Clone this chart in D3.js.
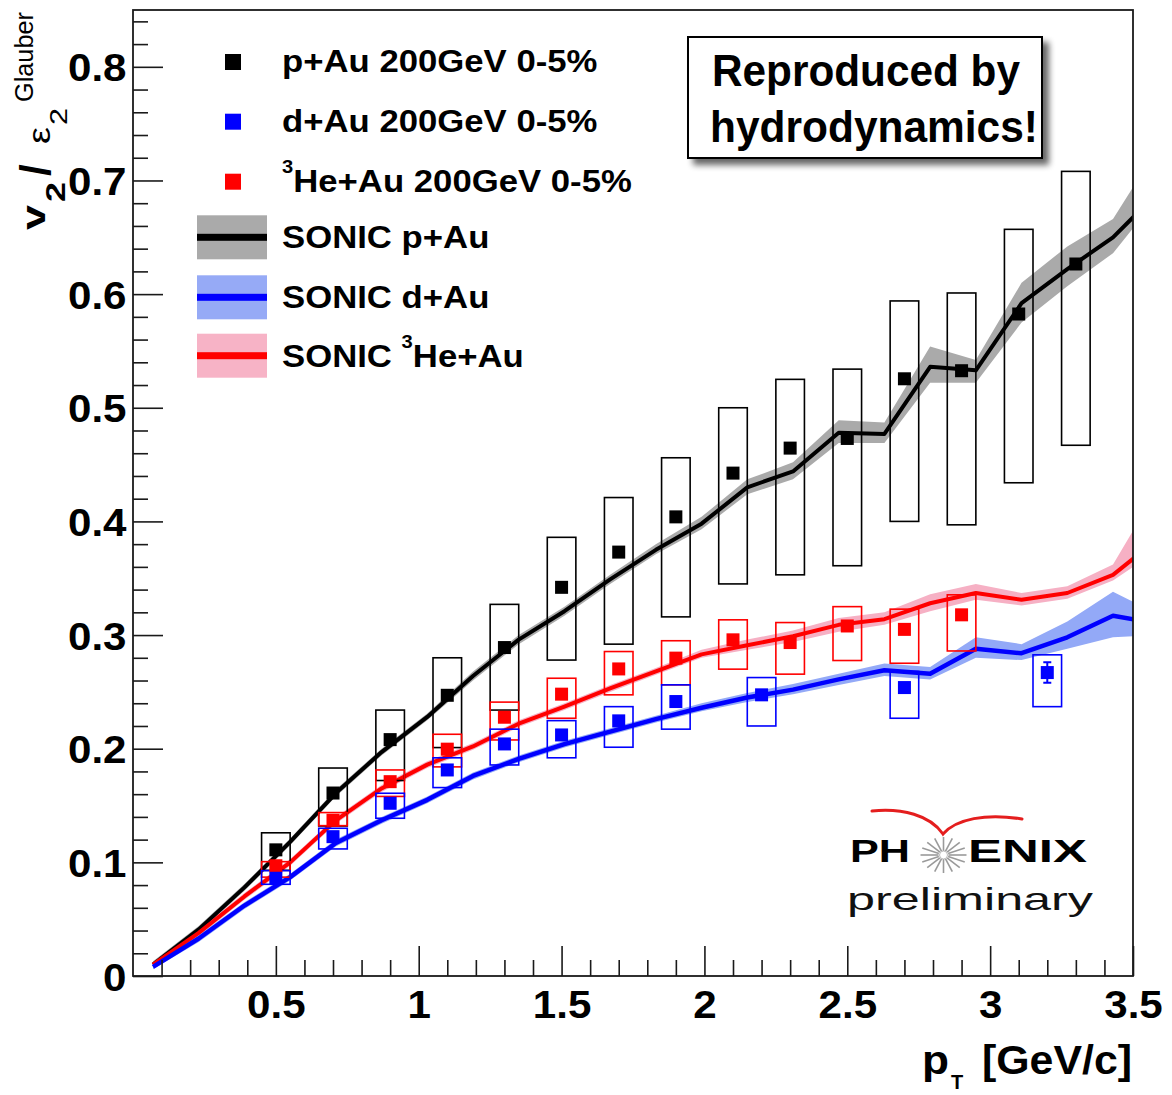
<!DOCTYPE html>
<html><head><meta charset="utf-8">
<script src="https://cdn.jsdelivr.net/npm/d3@7"></script>
<style>body{margin:0;background:#fff}</style>
</head><body>
<svg id="chart" width="1172" height="1095"></svg>
<script>
// ---------------- DATA ----------------
const sonicPt = [0.07,0.23,0.39,0.55,0.71,0.87,1.03,1.19,1.35,1.51,1.67,1.83,1.99,2.15,2.31,2.47,2.63,2.79,2.95,3.11,3.27,3.43,3.59];

const sonicPAu   = [0.010,0.041,0.078,0.118,0.161,0.197,0.228,0.264,0.296,0.321,0.349,0.375,0.398,0.430,0.444,0.478,0.477,0.536,0.533,0.592,0.622,0.650,0.690];
const sonicPAuLo = [0.007,0.038,0.075,0.115,0.158,0.194,0.225,0.260,0.292,0.317,0.345,0.371,0.393,0.424,0.437,0.469,0.469,0.522,0.522,0.575,0.607,0.636,0.686];
const sonicPAuHi = [0.013,0.044,0.081,0.121,0.164,0.200,0.231,0.268,0.300,0.325,0.353,0.380,0.404,0.437,0.452,0.489,0.487,0.554,0.542,0.610,0.642,0.666,0.730];

const sonicHeAu   = [0.010,0.038,0.070,0.100,0.137,0.165,0.186,0.202,0.222,0.237,0.253,0.268,0.283,0.291,0.299,0.309,0.314,0.328,0.337,0.331,0.337,0.353,0.385];
const sonicHeAuLo = [0.008,0.035,0.067,0.097,0.134,0.162,0.183,0.199,0.219,0.234,0.250,0.265,0.280,0.287,0.294,0.303,0.309,0.321,0.331,0.326,0.332,0.348,0.375];
const sonicHeAuHi = [0.012,0.041,0.073,0.103,0.140,0.168,0.189,0.205,0.225,0.240,0.256,0.271,0.287,0.296,0.304,0.315,0.320,0.336,0.345,0.337,0.343,0.362,0.430];

const sonicDAu   = [0.008,0.033,0.062,0.087,0.117,0.137,0.155,0.176,0.191,0.204,0.215,0.226,0.236,0.245,0.252,0.261,0.269,0.266,0.288,0.284,0.298,0.317,0.310];
const sonicDAuLo = [0.006,0.030,0.059,0.084,0.114,0.134,0.152,0.173,0.188,0.201,0.212,0.223,0.233,0.241,0.248,0.256,0.264,0.261,0.280,0.278,0.288,0.298,0.300];
const sonicDAuHi = [0.010,0.036,0.065,0.090,0.120,0.140,0.158,0.179,0.194,0.207,0.218,0.229,0.240,0.249,0.257,0.266,0.275,0.272,0.298,0.292,0.312,0.338,0.318];

const ptPAu    = [0.5,0.7,0.9,1.1,1.3,1.5,1.7,1.9,2.1,2.3,2.5,2.7,2.9,3.1,3.3];
const v2PAu    = [0.111,0.161,0.208,0.247,0.289,0.342,0.373,0.404,0.4425,0.4645,0.473,0.5255,0.5326,0.5825,0.6265];
const sysLoPAu = [0.093,0.132,0.172,0.201,0.234,0.278,0.292,0.316,0.345,0.353,0.361,0.400,0.397,0.434,0.467];
const sysHiPAu = [0.126,0.183,0.234,0.280,0.327,0.386,0.421,0.456,0.500,0.525,0.534,0.594,0.601,0.657,0.708];

const ptHeAu    = [0.5,0.7,0.9,1.1,1.3,1.5,1.7,1.9,2.1,2.3,2.5,2.7,2.9];
const v2HeAu    = [0.097,0.137,0.171,0.1996,0.2277,0.248,0.2702,0.2797,0.2958,0.2934,0.308,0.305,0.3178];
const sysLoHeAu = [0.087,0.1323,0.158,0.184,0.2077,0.2268,0.2474,0.2562,0.270,0.2656,0.2776,0.2752,0.286];
const sysHiHeAu = [0.1006,0.1438,0.1813,0.2127,0.241,0.262,0.2855,0.295,0.3134,0.311,0.325,0.3228,0.3354];

const ptDAu    = [0.5,0.7,0.9,1.1,1.3,1.5,1.7,1.9,2.2,2.7,3.2];
const v2DAu    = [0.086,0.1226,0.152,0.1813,0.2042,0.2121,0.2245,0.2415,0.2474,0.2538,0.267];
const sysLoDAu = [0.0807,0.1118,0.1388,0.1658,0.1857,0.192,0.2013,0.2172,0.220,0.2268,0.237];
const sysHiDAu = [0.0927,0.130,0.1608,0.192,0.2172,0.2247,0.237,0.2562,0.2626,0.268,0.2826];
const statDAu  = [0.002,0.002,0.002,0.002,0.002,0.002,0.002,0.003,0.003,0.004,0.009];

const xTickVals = [0.5,1,1.5,2,2.5,3,3.5];
const xTickLabels = ["0.5","1","1.5","2","2.5","3","3.5"];
const yTickVals = [0,0.1,0.2,0.3,0.4,0.5,0.6,0.7,0.8];
const yTickLabels = ["0","0.1","0.2","0.3","0.4","0.5","0.6","0.7","0.8"];

const legendPoints = ["p+Au 200GeV 0-5%","d+Au 200GeV 0-5%","He+Au 200GeV 0-5%"];
const legendSonic = ["SONIC p+Au","SONIC d+Au","He+Au"];

// ---------------- SETUP ----------------
const FONT = "'Liberation Sans', Arial, Helvetica, sans-serif";
const svg = d3.select('#chart');
const X0 = 133, X1 = 1133, Y0 = 976, Y1 = 10;
const x = d3.scaleLinear().domain([0,3.5]).range([X0,X1]);
const y = d3.scaleLinear().domain([0,0.85]).range([Y0,Y1]);

const defs = svg.append('defs');
defs.append('clipPath').attr('id','plotClip').append('rect')
  .attr('x',X0).attr('y',Y1).attr('width',X1-X0).attr('height',Y0-Y1);
const flt = defs.append('filter').attr('id','shadow')
  .attr('x','-10%').attr('y','-20%').attr('width','130%').attr('height','150%');
flt.append('feGaussianBlur').attr('in','SourceAlpha').attr('stdDeviation',3).attr('result','b');
flt.append('feOffset').attr('in','b').attr('dx',6).attr('dy',6).attr('result','o');
const ct = flt.append('feComponentTransfer').attr('in','o').attr('result','s');
ct.append('feFuncA').attr('type','linear').attr('slope',0.6);
const fm = flt.append('feMerge');
fm.append('feMergeNode').attr('in','s');
fm.append('feMergeNode').attr('in','SourceGraphic');

// ---------------- CURVES ----------------
const theory = [
  {mid:sonicPAu, lo:sonicPAuLo, hi:sonicPAuHi, line:'#000000', band:'#aaaaaa', w:4},
  {mid:sonicHeAu, lo:sonicHeAuLo, hi:sonicHeAuHi, line:'#ff0000', band:'#f6b0c4', w:4},
  {mid:sonicDAu, lo:sonicDAuLo, hi:sonicDAuHi, line:'#0000ff', band:'#93a9f7', w:4.5}
];
const gCurves = svg.append('g').attr('clip-path','url(#plotClip)');
theory.forEach(t => {
  const pts = sonicPt.map((p,i)=>({p, m:t.mid[i], lo:t.lo[i], hi:t.hi[i]}));
  gCurves.append('path').datum(pts)
    .attr('d', d3.area().x(d=>x(d.p)).y0(d=>y(d.lo)).y1(d=>y(d.hi)))
    .attr('fill', t.band);
});
theory.forEach(t => {
  const pts = sonicPt.map((p,i)=>({p, m:t.mid[i]}));
  gCurves.append('path').datum(pts)
    .attr('d', d3.line().x(d=>x(d.p)).y(d=>y(d.m)))
    .attr('fill','none').attr('stroke',t.line).attr('stroke-width',t.w)
    .attr('stroke-linejoin','round');
});

// ---------------- DATA POINTS ----------------
const dataSets = [
  {pt:ptPAu, v:v2PAu, lo:sysLoPAu, hi:sysHiPAu, color:'#000000', stat:null},
  {pt:ptHeAu, v:v2HeAu, lo:sysLoHeAu, hi:sysHiHeAu, color:'#ff0000', stat:null},
  {pt:ptDAu, v:v2DAu, lo:sysLoDAu, hi:sysHiDAu, color:'#0000ff', stat:statDAu}
];
const halfW = 0.05, M = 13;
const gData = svg.append('g');
dataSets.forEach(s => {
  const rows = s.pt.map((p,i)=>({p, v:s.v[i], lo:s.lo[i], hi:s.hi[i], st: s.stat ? s.stat[i] : 0}));
  gData.append('g').selectAll('rect').data(rows).join('rect')
    .attr('x', d=>x(d.p-halfW)).attr('width', d=>x(d.p+halfW)-x(d.p-halfW))
    .attr('y', d=>y(d.hi)).attr('height', d=>y(d.lo)-y(d.hi))
    .attr('fill','none').attr('stroke',s.color).attr('stroke-width',1.6);
});
dataSets.forEach(s => {
  const rows = s.pt.map((p,i)=>({p, v:s.v[i], st: s.stat ? s.stat[i] : 0}));
  const g = gData.append('g');
  g.selectAll('path.err').data(rows.filter(d=>y(d.v-d.st)-y(d.v+d.st) > M)).join('path')
    .attr('class','err')
    .attr('d', d=>`M${x(d.p)},${y(d.v+d.st)}V${y(d.v-d.st)}M${x(d.p)-4},${y(d.v+d.st)}h8M${x(d.p)-4},${y(d.v-d.st)}h8`)
    .attr('stroke',s.color).attr('stroke-width',2).attr('fill','none');
  g.selectAll('rect').data(rows).join('rect')
    .attr('x', d=>x(d.p)-M/2).attr('y', d=>y(d.v)-M/2)
    .attr('width',M).attr('height',M).attr('fill',s.color);
});

// ---------------- AXES ----------------
const tickStroke = '#1a1a1a';
const xMinor = d3.range(1,35).filter(i=>i%5!==0).map(i=>i/10);
const yMinor = d3.range(1,43).filter(i=>i%5!==0).map(i=>i*0.02);

const gx = svg.append('g').attr('transform',`translate(0,${Y0})`)
  .call(d3.axisBottom(x).tickValues(xTickVals).tickSize(-30).tickPadding(14)
        .tickFormat((d,i)=>xTickLabels[i]));
const gxm = svg.append('g').attr('transform',`translate(0,${Y0})`)
  .call(d3.axisBottom(x).tickValues(xMinor).tickSize(-16).tickFormat(''));
const gy = svg.append('g').attr('transform',`translate(${X0},0)`)
  .call(d3.axisLeft(y).tickValues(yTickVals).tickSize(-30).tickPadding(6)
        .tickFormat((d,i)=>yTickLabels[i]));
const gym = svg.append('g').attr('transform',`translate(${X0},0)`)
  .call(d3.axisLeft(y).tickValues(yMinor).tickSize(-15).tickFormat(''));
[gx,gxm,gy,gym].forEach(g=>{
  g.select('.domain').remove();
  g.selectAll('line').attr('stroke',tickStroke).attr('stroke-width',1.6);
  g.selectAll('text').attr('font-family',FONT).attr('font-size',39)
    .attr('font-weight','bold').attr('fill','#000').attr('transform','scale(1.08,1)');
});
gy.selectAll('text').attr('dy','0.36em');

// frame
svg.append('rect').attr('x',X0).attr('y',Y1).attr('width',X1-X0).attr('height',Y0-Y1)
  .attr('fill','none').attr('stroke','#1a1a1a').attr('stroke-width',1.8);

// ---------------- AXIS TITLES ----------------
const tx = svg.append('g').attr('font-family',FONT).attr('fill','#000');
tx.append('text').attr('x',922).attr('y',1074).attr('font-size',40).attr('font-weight','bold')
  .attr('textLength',27).attr('lengthAdjust','spacingAndGlyphs').text('p');
tx.append('text').attr('x',951).attr('y',1089).attr('font-size',20).attr('font-weight','bold').text('T');
tx.append('text').attr('x',982).attr('y',1074).attr('font-size',40).attr('font-weight','bold')
  .attr('textLength',150).attr('lengthAdjust','spacingAndGlyphs').text('[GeV/c]');

const ty = svg.append('g').attr('transform','translate(0,232) rotate(-90)')
  .attr('font-family',FONT).attr('fill','#000');
const yParts = [
  {t:'v', u:2, v:45, fs:33, fw:'bold', L:25},
  {t:'2', u:30, v:65, fs:27, fw:'bold', L:20},
  {t:'/', u:56, v:50, fs:42, fw:'bold', L:null},
  {t:'\u03b5', u:88, v:50, fs:32, fw:'normal', L:17},
  {t:'2', u:107, v:67, fs:24, fw:'normal', L:17},
  {t:'Glauber', u:130, v:33, fs:25, fw:'normal', L:90}
];
yParts.forEach(p=>{
  const t = ty.append('text').attr('x',p.u).attr('y',p.v).attr('font-size',p.fs).attr('font-weight',p.fw).text(p.t);
  if (p.L) t.attr('textLength',p.L).attr('lengthAdjust','spacingAndGlyphs');
});

// ---------------- LEGEND ----------------
const lg = svg.append('g').attr('font-family',FONT).attr('font-weight','bold').attr('fill','#000');
const ptColors = ['#000000','#0000ff','#ff0000'];
const ptBase = [72,131.7,191.7];
legendPoints.forEach((s,i)=>{
  lg.append('rect').attr('x',233-8).attr('y',ptBase[i]-10-8).attr('width',16).attr('height',16).attr('fill',ptColors[i]);
  const t = lg.append('text').attr('transform',`translate(282,${ptBase[i]}) scale(1.12,1)`).attr('font-size',31);
  if (i===2) {
    t.append('tspan').attr('font-size',18).attr('dy',-19).text('3');
    t.append('tspan').attr('dy',19).text(s);
  } else t.text(s);
});
const snLine = ['#000000','#0000ff','#ff0000'];
const snBand = ['#aaaaaa','#96aaf6','#f7b3c6'];
const snBase = [248.3,308.3,366.7];
legendSonic.forEach((s,i)=>{
  const cy = snBase[i]-11;
  lg.append('rect').attr('x',197).attr('y',cy-22).attr('width',70).attr('height',44).attr('fill',snBand[i]);
  lg.append('rect').attr('x',197).attr('y',cy-3.5).attr('width',70).attr('height',7).attr('fill',snLine[i]);
  const t = lg.append('text').attr('transform',`translate(282,${snBase[i]}) scale(1.12,1)`).attr('font-size',31);
  if (i===2) {
    t.append('tspan').text('SONIC  ');
    t.append('tspan').attr('font-size',18).attr('dy',-19).text('3');
    t.append('tspan').attr('dy',19).text(s);
  } else t.text(s);
});

// ---------------- ANNOTATION BOX ----------------
const ab = svg.append('g');
ab.append('rect').attr('x',688).attr('y',37).attr('width',354).attr('height',121)
  .attr('fill','#fff').attr('stroke','#000').attr('stroke-width',2).attr('filter','url(#shadow)');
ab.append('text').attr('x',712).attr('y',86).attr('font-family',FONT).attr('font-weight','bold')
  .attr('font-size',45).attr('textLength',308).attr('lengthAdjust','spacingAndGlyphs').text('Reproduced by');
ab.append('text').attr('x',710).attr('y',142).attr('font-family',FONT).attr('font-weight','bold')
  .attr('font-size',45).attr('textLength',328).attr('lengthAdjust','spacingAndGlyphs').text('hydrodynamics!');

// ---------------- PHENIX LOGO ----------------
const lo = svg.append('g');
lo.append('path').attr('d','M872,811 C902,808 930,815 943,834 C956,819 986,813 1022,819')
  .attr('fill','none').attr('stroke','#e41e1e').attr('stroke-width',3).attr('stroke-linecap','round');
const sc = {x:943.5, y:855};
d3.range(16).forEach(k=>{
  const a = k*Math.PI/8;
  lo.append('line')
    .attr('x1',sc.x+5*Math.cos(a)).attr('y1',sc.y+4*Math.sin(a))
    .attr('x2',sc.x+23*Math.cos(a)).attr('y2',sc.y+18*Math.sin(a))
    .attr('stroke','#9a9a9a').attr('stroke-width',1.6);
});
lo.append('circle').attr('cx',sc.x).attr('cy',sc.y).attr('r',4).attr('fill','#fff').attr('stroke','#bbb').attr('stroke-width',1);
lo.append('text').attr('x',850).attr('y',862).attr('font-family',FONT).attr('font-weight','bold')
  .attr('font-size',31).attr('textLength',60).attr('lengthAdjust','spacingAndGlyphs').text('PH');
lo.append('text').attr('x',968).attr('y',862).attr('font-family',FONT).attr('font-weight','bold')
  .attr('font-size',31).attr('textLength',119).attr('lengthAdjust','spacingAndGlyphs').text('ENIX');
lo.append('text').attr('x',847).attr('y',910).attr('font-family',FONT)
  .attr('font-size',32).attr('fill','#111').attr('textLength',246).attr('lengthAdjust','spacingAndGlyphs').text('preliminary');
</script>
</body></html>
